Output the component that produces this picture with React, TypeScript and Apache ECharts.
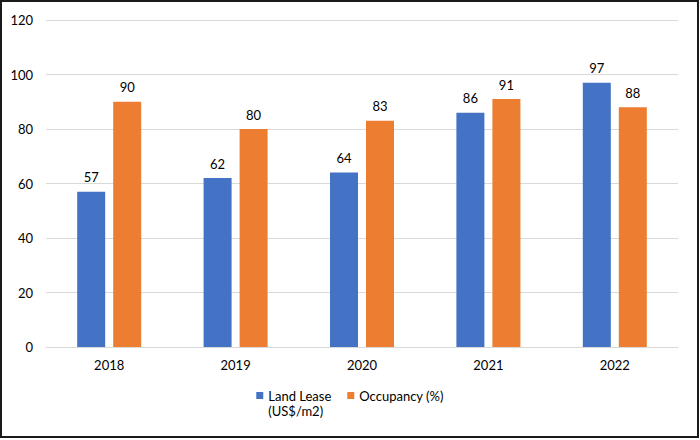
import React, { useEffect, useRef } from "react";
import * as echarts from "echarts";

const years = ["2018", "2019", "2020", "2021", "2022"];
const landLease = [57, 62, 64, 86, 97];
const occupancy = [90, 80, 83, 91, 88];
const seriesNames = ["Land Lease\n(US$/m2)", "Occupancy (%)"];

const FONT = "Lato, 'Open Sans', sans-serif";

export default function App() {
  const ref = useRef<HTMLDivElement>(null);
  useEffect(() => {
    document.body.style.margin = "0";
    const chart = echarts.init(ref.current!, null, { renderer: "svg" });
    const label = {
      show: true,
      position: "top" as const,
      distance: 8,
      color: "#000",
      fontSize: 13,
      fontFamily: FONT,
    };
    chart.setOption({
      animation: false,
      backgroundColor: "#fff",
      textStyle: { fontFamily: FONT },
      graphic: [
        {
          type: "rect",
          shape: { x: 1, y: 1, width: 697, height: 436 },
          style: { fill: "none", stroke: "#1a1a1a", lineWidth: 2 },
          silent: true,
        },
      ],
      grid: { left: 46, right: 22, top: 20, bottom: 93 },
      legend: {
        left: "center",
        top: 368,
        itemWidth: 7,
        itemHeight: 7,
        itemGap: 16,
        icon: "rect",
        formatter: (name: string) => (name.indexOf("\n") >= 0 ? " \n" + name : name),
        textStyle: { fontSize: 13, color: "#000", fontFamily: FONT, lineHeight: 15 },
        data: seriesNames,
      },
      xAxis: {
        type: "category",
        data: years,
        axisLine: { lineStyle: { color: "#d9d9d9", width: 1 } },
        axisTick: { show: false },
        axisLabel: { color: "#000", fontSize: 13, margin: 11, fontFamily: FONT },
      },
      yAxis: {
        type: "value",
        min: 0,
        max: 120,
        interval: 20,
        splitLine: { lineStyle: { color: "#d9d9d9", width: 1 } },
        axisLabel: { color: "#000", fontSize: 13, margin: 13, fontFamily: FONT },
      },
      series: [
        {
          name: seriesNames[0],
          type: "bar",
          data: landLease,
          barWidth: 28,
          barGap: "28.6%",
          itemStyle: { color: "#4472C4" },
          label,
        },
        {
          name: seriesNames[1],
          type: "bar",
          data: occupancy,
          barWidth: 28,
          itemStyle: { color: "#ED7D31" },
          label,
        },
      ],
    });
    return () => chart.dispose();
  }, []);
  return (
    <div
      ref={ref}
      style={{ position: "absolute", left: 0, top: 0, width: 700, height: 440 }}
    />
  );
}
